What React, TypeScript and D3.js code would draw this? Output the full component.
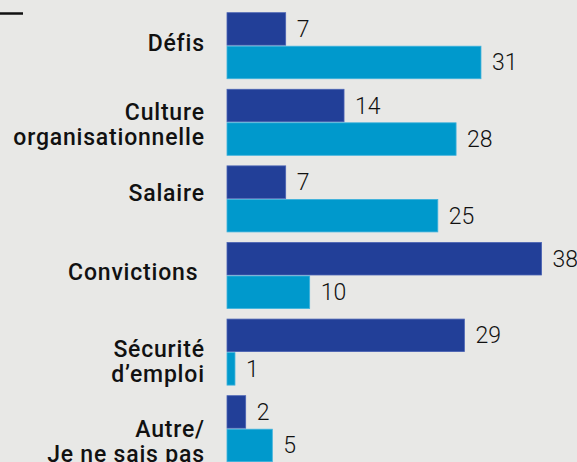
import React from "react";
import * as d3 from "d3";

const categories = ["Défis", "Culture organisationnelle", "Salaire", "Convictions", "Sécurité d'emploi", "Autre/ Je ne sais pas"];
const categoryLines = [["Défis"], ["Culture", "organisationnelle"], ["Salaire"], ["Convictions "], ["Sécurité", "d’emploi"], ["Autre/", "Je ne sais pas"]];
const seriesKeys = ["a", "b"];
const seriesA = [7.07, 14.1, 7.07, 37.9, 28.6, 2.25];
const seriesB = [30.6, 27.6, 25.4, 9.96, 0.96, 5.46];
const labelsA = ["7", "14", "7", "38", "29", "2"];
const labelsB = ["31", "28", "25", "10", "1", "5"];

const W = 577;
const H = 462;
const BG = "#e8e8e6";
const COLORS = ["#223f98", "#0099cc"];
const STROKES = ["#4a63b4", "#3fb2dc"];
const labelDy = [5, -2.3, 2, 4.5, 4.5, 8.6];
const FONT = "Roboto, 'DejaVu Sans', sans-serif";

export default function App() {
  const x = d3.scaleLinear().domain([0, 40]).range([227, 559]);
  const y = d3
    .scaleBand<string>()
    .domain(categories)
    .range([7.4, 467])
    .paddingInner(0.138)
    .paddingOuter(0.069);
  const inner = d3.scaleBand<string>().domain(seriesKeys).range([0, y.bandwidth()]).paddingInner(0.03);
  const series = [seriesA, seriesB];
  const labels = [labelsA, labelsB];

  return (
    <svg width={W} height={H} style={{ position: "absolute", left: 0, top: 0, background: BG }}>
      <rect x={0} y={0} width={W} height={H} fill={BG} />
      <line x1={0} x2={23} y1={13.5} y2={13.5} stroke="#111" strokeWidth={2.5} />
      {categories.map((c, i) => {
        const y0 = y(c) as number;
        const cy = y0 + y.bandwidth() / 2;
        return (
          <g key={c}>
            {categoryLines[i].map((ln, j) => (
              <text
                key={j}
                x={204.8}
                y={cy + labelDy[i] + j * 25}
                textAnchor="end"
                fontFamily={FONT}
                fontWeight={500}
                fontSize={23}
                letterSpacing={0.8}
                fill="#111"
                style={{ whiteSpace: "pre" }}
              >
                {ln}
              </text>
            ))}
            {seriesKeys.map((k, s) => {
              const by = y0 + (inner(k) as number);
              const v = series[s][i];
              return (
                <g key={k}>
                  <rect
                    x={x(0)}
                    y={by}
                    width={x(v) - x(0)}
                    height={inner.bandwidth()}
                    fill={COLORS[s]}
                    stroke={STROKES[s]}
                    strokeWidth={0.8}
                  />
                  <text
                    x={x(v) + 11}
                    y={by + inner.bandwidth() / 2 + 8}
                    fontFamily={FONT}
                    fontWeight={300}
                    fontSize={23}
                    fill="#111"
                  >
                    {labels[s][i]}
                  </text>
                </g>
              );
            })}
          </g>
        );
      })}
    </svg>
  );
}
